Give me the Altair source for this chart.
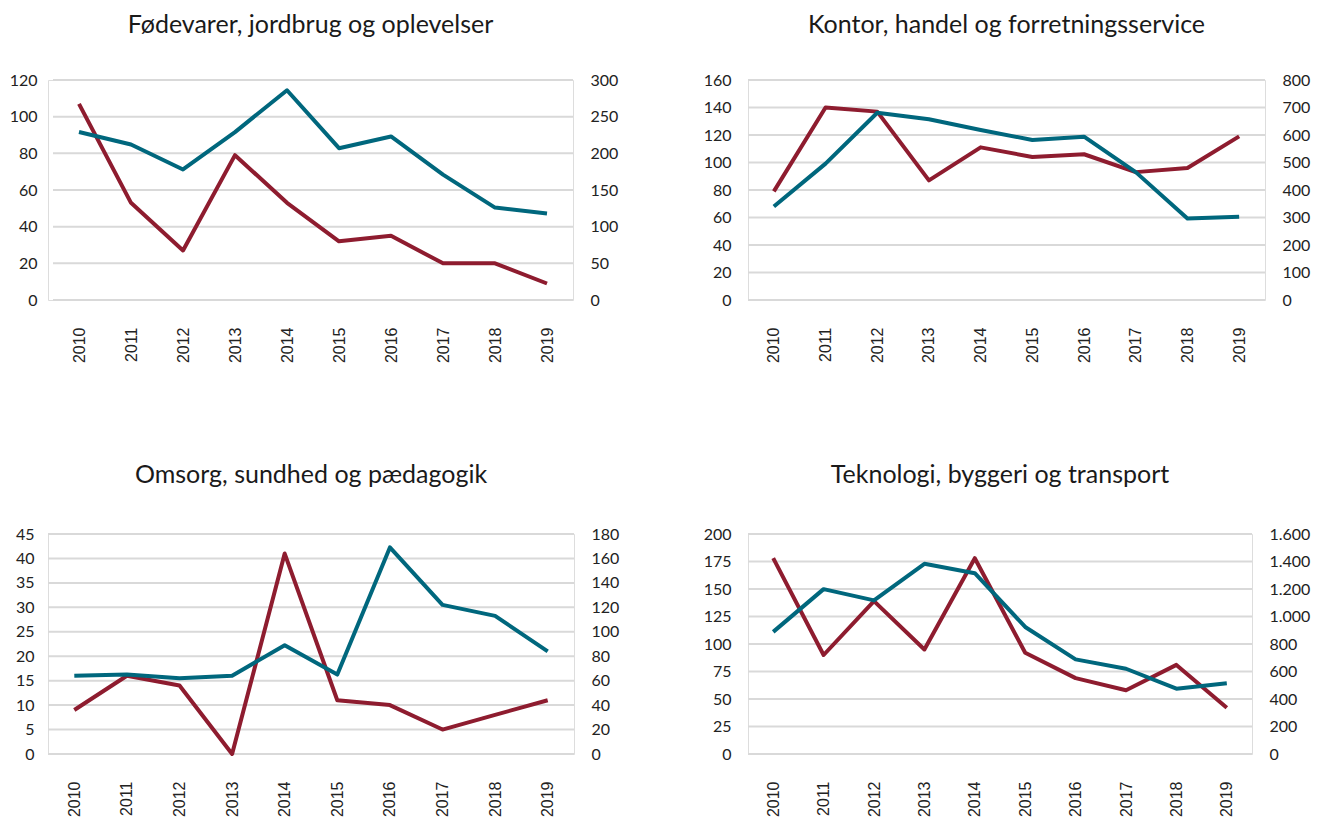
import altair as alt
import pandas as pd

years = ["2010", "2011", "2012", "2013", "2014", "2015", "2016", "2017", "2018", "2019"]

titles = [
    "Fødevarer, jordbrug og oplevelser",
    "Kontor, handel og forretningsservice",
    "Omsorg, sundhed og pædagogik",
    "Teknologi, byggeri og transport",
]

red_p1 = [107, 53, 27, 79, 53, 32, 35, 20, 20, 9]
blue_p1 = [229, 212, 178, 229, 286, 207, 223, 171, 126, 118]
red_p2 = [79, 140, 137, 87, 111, 104, 106, 93, 96, 119]
blue_p2 = [340, 496, 681, 657, 618, 582, 594, 465, 296, 303]
red_p3 = [9, 16, 14, 0, 41, 11, 10, 5, 8, 11]
blue_p3 = [64, 65, 62, 64, 89, 65, 169, 122, 113, 84]
red_p4 = [178, 90, 139, 95, 178, 92, 69, 58, 81, 42]
blue_p4 = [888, 1199, 1117, 1383, 1315, 924, 688, 620, 475, 514]

left_ticks = [
    [0, 20, 40, 60, 80, 100, 120],
    [0, 20, 40, 60, 80, 100, 120, 140, 160],
    [0, 5, 10, 15, 20, 25, 30, 35, 40, 45],
    [0, 25, 50, 75, 100, 125, 150, 175, 200],
]
right_ticks = [
    [0, 50, 100, 150, 200, 250, 300],
    [0, 100, 200, 300, 400, 500, 600, 700, 800],
    [0, 20, 40, 60, 80, 100, 120, 140, 160, 180],
    [0, 200, 400, 600, 800, 1000, 1200, 1400, 1600],
]

reds = [red_p1, red_p2, red_p3, red_p4]
blues = [blue_p1, blue_p2, blue_p3, blue_p4]

# layout (pixels): plot width, left inset of the drawn area, label padding
widths = [525, 517, 526, 504]
insets = [5, 0, 0, 0]
left_pad = [11, 17, 14, 17]
title_offsets = [34, 34, 38, 38]

RED = "#8e1c2f"
BLUE = "#00677d"
GRID = "#d9d9d9"
NUMFONT = "Lato"
TITLEFONT = "Lato"
YEARFONT = "Liberation Sans"


def panel(i):
    df = pd.DataFrame({"year": years, "red": reds[i], "blue": blues[i]})
    gdf = pd.DataFrame({"g": left_ticks[i]})
    w = widths[i]
    ins = insets[i]
    ldom = [left_ticks[i][0], left_ticks[i][-1]]
    rdom = [right_ticks[i][0], right_ticks[i][-1]]
    x = alt.X(
        "year:O",
        scale=alt.Scale(type="point", padding=0.5, range=[ins, w]),
        axis=alt.Axis(
            title=None, labelAngle=-90, labelFont=YEARFONT, labelFontSize=16,
            labelColor="#222222", labelPadding=27, domain=False, ticks=False, grid=False,
        ),
    )
    grid = alt.Chart(gdf).mark_rule(color=GRID, strokeWidth=2).encode(
        y=alt.Y("g:Q", scale=alt.Scale(domain=ldom, nice=False), axis=None),
        x=alt.value(ins),
        x2=alt.value(w),
    )
    red_line = alt.Chart(df).mark_line(color=RED, strokeWidth=4, strokeJoin="round").encode(
        x=x,
        y=alt.Y(
            "red:Q",
            scale=alt.Scale(domain=ldom, nice=False),
            axis=alt.Axis(
                orient="left", title=None, values=left_ticks[i], grid=False,
                domain=False, ticks=False,
                labelFont=NUMFONT, labelFontSize=16, labelColor="#222222",
                labelPadding=left_pad[i],
            ),
        ),
    )
    blue_line = alt.Chart(df).mark_line(color=BLUE, strokeWidth=4, strokeJoin="round").encode(
        x=x,
        y=alt.Y(
            "blue:Q",
            scale=alt.Scale(domain=rdom, nice=False),
            axis=alt.Axis(
                orient="right", title=None, values=right_ticks[i], grid=False,
                domain=False, ticks=False, labelFont=NUMFONT, labelFontSize=16,
                labelColor="#222222", labelPadding=17,
                labelExpr="replace(format(datum.value, ','), ',', '.')",
            ),
        ),
    )
    return (
        alt.layer(grid, red_line, blue_line)
        .resolve_scale(y="independent")
        .properties(
            width=w,
            height=220,
            title=alt.TitleParams(
                titles[i], font=TITLEFONT, fontSize=25, fontWeight="normal",
                color="#1a1a1a", anchor="middle", offset=title_offsets[i],
            ),
        )
    )


row1 = alt.hconcat(panel(0), panel(1), spacing=83)
row2 = alt.hconcat(panel(2), panel(3), spacing=82)
chart = (
    alt.vconcat(row1, row2, spacing=98)
    .properties(padding={"left": 0, "top": 4, "right": 0, "bottom": 0})
    .configure_view(stroke=None)
    .configure(background="white")
)

chart.save("out.html", embed_options={"renderer": "svg", "actions": False})
